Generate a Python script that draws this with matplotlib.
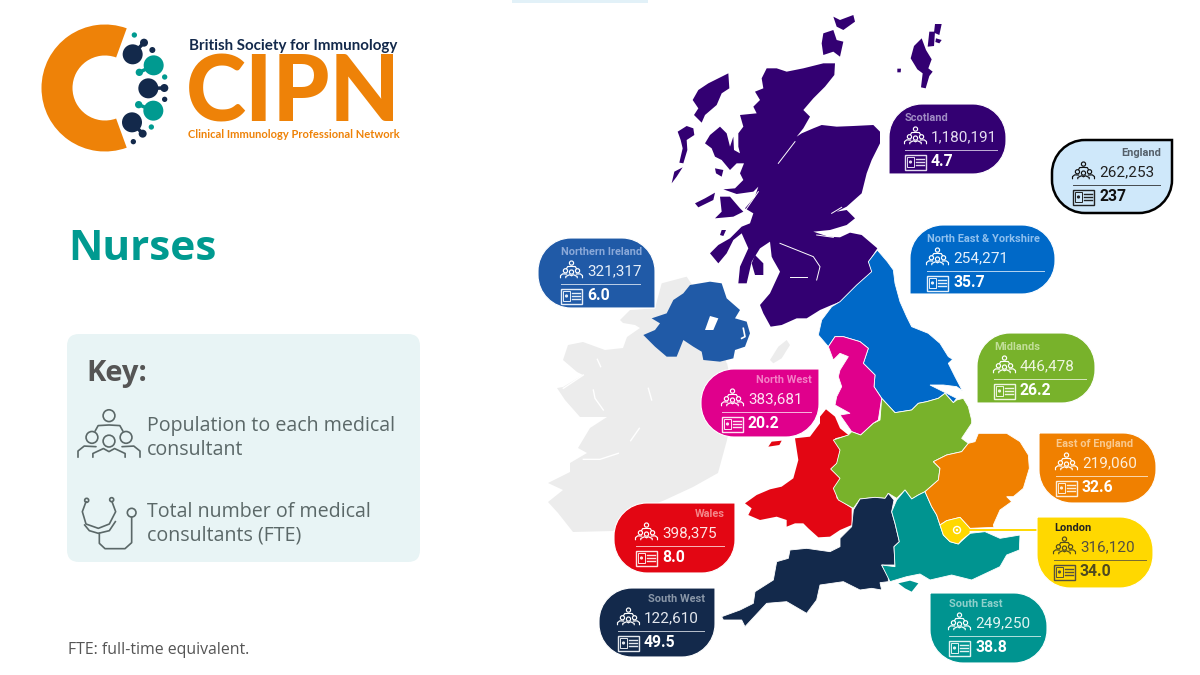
import matplotlib
matplotlib.use('Agg')
import matplotlib.pyplot as plt
from matplotlib.patches import Circle, PathPatch, Polygon, Rectangle, Wedge, FancyBboxPatch
from matplotlib.path import Path

# chart values
regions = ['Scotland', 'England', 'Northern Ireland', 'North East & Yorkshire', 'Midlands', 'North West',
           'East of England', 'London', 'South East', 'Wales', 'South West']
population = [1180191, 262253, 321317, 254271, 446478, 383681, 219060, 316120, 249250, 398375, 122610]
fte = [4.7, 237, 6.0, 35.7, 26.2, 20.2, 32.6, 34.0, 38.8, 8.0, 49.5]

fills = ['#330072', '#cfe8fa', '#205aa7', '#0069c8', '#78b22b', '#e0008c', '#f08000', '#ffd800', '#009490',
         '#e30613', '#13294b']
name_cols = ['#a08cc4', '#55606a', '#8aa8d8', '#8fc0ee', '#c2df99', '#f47fc6', '#f9c98e', '#222222', '#8fd0cb',
             '#f3878a', '#8a97a8']
num_cols = ['#e4dcf0', '#222222', '#e6eef8', '#e4f0fb', '#eef6e0', '#fde4f3', '#fdeeda', '#555040', '#e0f4f2',
            '#fde4e4', '#e4e8ee']
fte_cols = ['white', '#111111', 'white', 'white', 'white', 'white', 'white', '#4f4a20', 'white', 'white', 'white']

# callout layout: x0, y0, x1, y1, square corner, icon left, rule end, name on right?
boxes = [(889, 104, 1006, 174, 'bl', 905, 997, False),
         (1052, 140, 1172, 213, 'tr', 1073, 1160, True),
         (538, 238, 655, 308, 'br', 561, 640, False),
         (910, 225, 1055, 294, 'bl', 927, 1044, False),
         (977, 333, 1095, 403, 'bl', 994, 1086, False),
         (701, 369, 819, 437, 'tr', 722, 811, True),
         (1039, 433, 1156, 503, 'tl', 1056, 1147, False),
         (1037, 517, 1153, 588, 'tl', 1054, 1146, False),
         (930, 593, 1047, 663, 'tl', 949, 1040, False),
         (614, 503, 735, 573, 'tr', 636, 724, True),
         (599, 588, 715, 657, 'tr', 618, 704, True)]


def crop(pts, x0, y0):
    return [(x0 + px / 3, y0 + py / 3) for px, py in pts]


# map outlines
scot_main = crop([(380, 205), (410, 205), (440, 215), (490, 205), (550, 190), (585, 190), (583, 225), (555, 260),
                  (520, 295), (490, 330), (510, 350), (490, 385), (470, 410), (485, 400), (520, 385), (545, 375),
                  (590, 380), (640, 378), (700, 375), (720, 395), (720, 430), (695, 480), (680, 520), (665, 580),
                  (620, 620), (590, 635), (620, 630), (645, 655), (620, 675), (570, 690), (520, 695), (565, 710),
                  (600, 712), (630, 698), (665, 705), (712, 745)], 640, 0) + \
    crop([(205, 125), (215, 155), (170, 195), (120, 245), (95, 255), (60, 270), (20, 295)], 800, 220) + \
    crop([(800, 265), (755, 285), (722, 290), (700, 250), (690, 225), (720, 190), (750, 125), (730, 90)], 530, 230) + \
    crop([(395, 770), (390, 725), (360, 745), (335, 785), (320, 850), (295, 850), (300, 800), (325, 745), (305, 700),
          (280, 720), (260, 760), (235, 790), (210, 760), (235, 735), (270, 715), (305, 680), (330, 670), (340, 640),
          (315, 625), (345, 590), (355, 560), (340, 575), (290, 582), (250, 568), (285, 565), (310, 540), (300, 520),
          (312, 490), (290, 490), (270, 510), (245, 480), (225, 470), (215, 445), (195, 430), (210, 405), (240, 380),
          (260, 400), (270, 440), (280, 410), (282, 450), (300, 460), (295, 440), (295, 400), (310, 380), (300, 345),
          (350, 340), (340, 320), (360, 300), (345, 275), (370, 265), (365, 235)], 640, 0)
scot_isles = [crop(p, 640, 0) for p in [
    [(265, 220), (268, 265), (245, 280), (230, 315), (195, 345), (185, 368), (162, 345), (175, 325), (158, 300),
     (175, 270), (205, 250), (235, 235)],
    [(140, 378), (160, 385), (163, 405), (140, 420), (142, 450), (130, 490), (118, 488), (128, 445), (122, 420), (113, 395)],
    [(128, 502), (110, 530), (95, 550), (103, 515)],
    [(165, 610), (195, 595), (225, 578), (220, 600), (175, 622)],
    [(240, 590), (270, 590), (300, 625), (310, 635), (280, 650), (225, 655), (245, 635)],
    [(225, 505), (250, 510), (245, 530), (228, 520)],
    [(345, 765), (370, 790), (370, 825), (345, 825), (335, 790)],
    [(245, 690), (258, 690), (250, 708), (240, 705)],
    [(550, 100), (580, 90), (590, 120), (610, 125), (600, 170), (580, 155), (550, 165), (545, 130)],
    [(580, 50), (600, 60), (640, 45), (645, 65), (610, 90), (590, 80)]]]
shetland = [crop(p, 880, 10) for p in [
    [(125, 85), (138, 120), (155, 148), (145, 175), (158, 185), (148, 198), (137, 235), (123, 232), (128, 190),
     (112, 178), (92, 145), (102, 108)],
    [(148, 65), (165, 65), (162, 108), (143, 110)],
    [(165, 42), (185, 42), (178, 75), (162, 68)],
    [(168, 85), (185, 90), (178, 100), (166, 96)],
    [(52, 176), (63, 176), (62, 187), (52, 187)]]]
ne_england = crop([(232, 90), (262, 125), (280, 150), (285, 190), (300, 245), (320, 290), (335, 320), (385, 340),
                   (420, 370), (445, 410), (458, 418), (445, 430), (465, 470), (487, 512), (470, 500), (430, 495),
                   (390, 495), (440, 520), (470, 535), (460, 548), (435, 520), (415, 535), (380, 545), (355, 550),
                   (335, 570), (285, 578), (245, 535), (222, 500), (225, 465), (190, 430), (205, 385), (180, 365),
                   (130, 350), (105, 350), (85, 380), (55, 345), (65, 300), (95, 260), (120, 245), (170, 195),
                   (215, 155), (205, 125)], 800, 220)
nw_england = crop([(85, 380), (105, 350), (130, 350), (180, 365), (205, 385), (190, 430), (225, 465), (222, 500),
                   (245, 535), (235, 600)], 800, 220) + \
    crop([(400, 70), (362, 105), (335, 95), (300, 45), (330, 40), (285, 15)], 740, 400) + \
    crop([(110, 530), (125, 500), (115, 470), (120, 450), (145, 410), (120, 400), (100, 420)], 800, 220)
wales = crop([(258, 28), (285, 50), (300, 85), (325, 105), (285, 115), (300, 150), (290, 190), (272, 207), (300, 235),
              (285, 265), (290, 295), (335, 325), (335, 375), (300, 390), (270, 410), (235, 412), (205, 385), (190, 370),
              (165, 370), (140, 380), (140, 360), (110, 350), (60, 360), (25, 345), (35, 325), (15, 310), (50, 285),
              (90, 268), (125, 260), (160, 235), (175, 180), (165, 115), (210, 110), (240, 70), (240, 50)], 740, 400)
anglesey = crop([(95, 125), (125, 122), (118, 135), (85, 140)], 740, 400)
midlands = crop([(245, 535), (285, 578), (335, 570), (355, 550), (380, 545), (415, 535), (435, 520), (460, 548),
                 (470, 540), (490, 535), (505, 560), (515, 600)], 800, 220) + \
    crop([(695, 70), (675, 100), (665, 115), (685, 130), (665, 155), (620, 165), (580, 185), (600, 205), (595, 240),
          (555, 275), (535, 285), (515, 297), (495, 270), (470, 295), (445, 280), (435, 295), (405, 292), (360, 297),
          (340, 325), (295, 300), (280, 265), (300, 235), (272, 207), (290, 190), (300, 150), (280, 120), (325, 105),
          (335, 95), (362, 105), (400, 70), (420, 60)], 740, 400)
east_england = crop([(715, 100), (800, 100), (840, 125), (865, 165), (868, 205), (850, 265), (820, 290), (800, 290),
                     (815, 305), (780, 330), (760, 375), (762, 382), (690, 385), (660, 352), (620, 362), (600, 375),
                     (590, 345), (575, 320), (555, 275), (595, 240), (600, 205), (580, 185), (620, 165), (665, 155),
                     (685, 130), (705, 125)], 740, 400)
london = crop([(600, 375), (620, 362), (660, 352), (690, 385), (690, 400), (665, 420), (655, 432), (630, 425),
               (610, 405)], 740, 400)
se_england = crop([(555, 275), (575, 320), (590, 345), (600, 375), (610, 405), (630, 425), (655, 432), (690, 400),
                   (735, 395), (780, 415), (840, 405), (838, 450), (800, 465), (780, 500), (695, 540), (635, 525),
                   (570, 540), (540, 522), (500, 530), (450, 545), (425, 495), (465, 500), (462, 440), (478, 425),
                   (465, 370), (455, 335), (470, 300), (495, 270), (515, 297), (535, 285)], 740, 400)
wight = crop([(475, 550), (510, 542), (535, 550), (515, 575), (495, 565)], 740, 400)
sw_england = crop([(360, 297), (405, 292), (435, 295), (445, 280), (462, 300), (455, 335), (465, 370), (478, 425),
                   (462, 440), (465, 495), (425, 495), (445, 530), (445, 545), (420, 548), (425, 570), (395, 565),
                   (360, 570), (310, 545)], 740, 400) + \
    crop([(660, 555), (650, 600), (620, 640), (560, 605), (500, 610), (435, 680), (425, 660), (370, 660), (365, 650),
          (420, 630), (460, 610), (465, 575), (520, 540), (530, 485), (565, 475), (570, 450), (620, 445), (690, 455),
          (720, 440), (720, 415), (755, 380), (760, 330)], 600, 400)
n_ireland = crop([(480, 165), (540, 155), (575, 160), (590, 205), (630, 240), (615, 265), (650, 275), (660, 310),
                  (645, 350), (615, 360), (610, 385), (570, 395), (520, 390), (515, 365), (490, 350), (460, 330),
                  (440, 380), (410, 380), (375, 350), (340, 315), (375, 300), (390, 280), (365, 265), (410, 250),
                  (430, 210), (460, 190)], 530, 230)
lough_neagh = crop([(540, 258), (565, 265), (550, 300), (525, 300)], 530, 230)
ireland = crop([(270, 270), (300, 240), (375, 235), (395, 160), (470, 140), (490, 170), (560, 300), (590, 400)], 530, 230) + \
    [(727, 363), (735, 400), (727, 440), (718, 473), (693, 487), (665, 500), (640, 510), (613, 531), (573, 532),
     (558, 513), (548, 502), (563, 490), (548, 483), (570, 472), (570, 463), (587, 453), (578, 448), (590, 428),
     (607, 417), (580, 417), (565, 400), (557, 388), (563, 387), (583, 375), (577, 372), (563, 360), (568, 345),
     (583, 342), (605, 350), (623, 348), (627, 337), (640, 328), (635, 325), (623, 323)]
isle_of_man = crop([(770, 330), (780, 345), (755, 385), (730, 400), (720, 390), (745, 350)], 530, 230)

ireland_gaps = [crop(p, 540, 300) for p in [[(172, 178), (182, 200)], [(160, 270), (165, 295), (190, 330)],
                                             [(325, 265), (335, 300)], [(298, 385), (272, 422)],
                                             [(130, 478), (180, 478), (235, 460)], [(70, 265), (130, 225)]]]
scot_gaps = [crop(p, 640, 0) for p in [[(415, 490), (465, 425)], [(420, 730), (520, 770), (540, 800), (530, 840)],
                                       [(575, 640), (605, 622)], [(310, 640), (355, 575)],
                                       [(450, 830), (500, 830)], [(530, 705), (580, 712)]]]

fig = plt.figure(figsize=(12, 6.75), dpi=100)
ax = fig.add_axes([0, 0, 1, 1])
ax.set_xlim(0, 1200)
ax.set_ylim(675, 0)
ax.axis('off')


def shape(pts, col, z=2, edge='white', lw=0.6):
    ax.add_patch(Polygon(pts, closed=True, fc=col, ec=edge, lw=lw, zorder=z))


def callout_path(x0, y0, x1, y1, square, r=33):
    radii = {c: (0 if c == square else r) for c in ['tl', 'tr', 'br', 'bl']}
    k = 0.55
    v = [(x0 + radii['tl'], y0)]
    c = [Path.MOVETO]

    def corner(px, py, ax_, ay_, bx, by):
        v.append((px, py))
        c.append(Path.LINETO)
        v.extend([(px + (ax_ - px) * k, py + (ay_ - py) * k), (bx + (ax_ - bx) * k, by + (ay_ - by) * k), (bx, by)])
        c.extend([Path.CURVE4] * 3)

    corner(x1 - radii['tr'], y0, x1, y0, x1, y0 + radii['tr'])
    corner(x1, y1 - radii['br'], x1, y1, x1 - radii['br'], y1)
    corner(x0 + radii['bl'], y1, x0, y1, x0, y1 - radii['bl'])
    corner(x0, y0 + radii['tl'], x0, y0, x0 + radii['tl'], y0)
    return Path(v, c)


def people(cx, cy, w, col, lw, z=6):
    for hx, hy in [(0, -0.72), (-0.55, -0.02), (0.55, -0.02), (0, 0.1)]:
        ax.add_patch(Circle((cx + hx * w, cy + hy * w), 0.19 * w, fc='none', ec=col, lw=lw, zorder=z))
    bodies = [[(-0.45, -0.22), (-0.35, -0.4), (0, -0.42), (0.35, -0.4), (0.45, -0.22)],
              [(-1, 0.62), (-1, 0.42), (-0.8, 0.26), (-0.42, 0.28)],
              [(1, 0.62), (1, 0.42), (0.8, 0.26), (0.42, 0.28)],
              [(-0.52, 0.62), (-0.52, 0.5), (-0.18, 0.34), (0, 0.44), (0.18, 0.34), (0.52, 0.5), (0.52, 0.62)]]
    for b in bodies:
        ax.plot([cx + p[0] * w for p in b], [cy + p[1] * w for p in b], color=col, lw=lw, zorder=z,
                solid_capstyle='round')


def card(x, cy, col, lw=1.0, z=6):
    ax.add_patch(Rectangle((x, cy - 7.5), 21, 15, fc='none', ec=col, lw=lw, zorder=z))
    ax.add_patch(Rectangle((x + 2, cy - 5), 7, 10, fc='none', ec=col, lw=lw * 0.7, zorder=z))
    ax.add_patch(Circle((x + 5.5, cy), 1.6, fc=col, ec='none', zorder=z))
    for dy in [-3, 0, 3]:
        ax.plot([x + 11, x + 19], [cy + dy, cy + dy], color=col, lw=lw, zorder=z)


def stethoscope(col, lw):
    u_top = crop([(108, 545), (97, 575), (108, 612), (145, 625), (178, 612), (197, 575), (186, 545)], 50, 320)
    u_low = crop([(104, 615), (118, 632), (145, 640), (178, 632), (196, 605)], 50, 320)
    tube = crop([(148, 640), (148, 670), (165, 686), (225, 686), (245, 668), (245, 592)], 50, 320)
    for t in [u_top, u_low, tube]:
        ax.plot(*zip(*t), color=col, lw=lw, zorder=4)
    for hx, hy, hr in [(110, 541, 6), (185, 539, 6), (245, 578, 13)]:
        ax.add_patch(Circle((50 + hx / 3, 320 + hy / 3), hr / 3, fc='none', ec=col, lw=lw, zorder=4))


# strip at the top edge
ax.add_patch(Rectangle((512, 0), 136, 2.5, fc='#e2f1f8', ec='none', zorder=1))

# logo
orange = '#ee8208'
navy = '#13294b'
teal = '#009a90'
ax.add_patch(Wedge((105, 88), 63.5, 70, 290, width=31, fc=orange, ec='none', zorder=2))
navy_dots = [(398, 163, 30), (432, 128, 12), (457, 150, 9), (445, 265, 30), (493, 264, 12), (494, 298, 8),
             (396, 367, 30), (428, 401, 12), (400, 425, 8)]
teal_dots = [(403, 105, 8), (461, 196, 30), (418, 217, 11), (494, 231, 8), (460, 332, 30), (416, 314, 11), (454, 381, 8)]
for (dots, col) in [(navy_dots, navy), (teal_dots, teal)]:
    for dx, dy, dr in dots:
        ax.add_patch(Circle((dx / 3, dy / 3), dr / 3, fc=col, ec='none', zorder=2))
for a, b, col in [(0, 1, navy), (3, 4, navy), (6, 7, navy)]:
    ax.plot([navy_dots[a][0] / 3, navy_dots[b][0] / 3], [navy_dots[a][1] / 3, navy_dots[b][1] / 3], color=col, lw=2.5, zorder=2)
for a, b in [(1, 2), (4, 5)]:
    ax.plot([teal_dots[a][0] / 3, teal_dots[b][0] / 3], [teal_dots[a][1] / 3, teal_dots[b][1] / 3], color=teal, lw=2.5, zorder=2)

ax.text(189, 46, 'British Society for Immunology', family='Lato', weight='bold', fontsize=10.9, color=navy, va='center')
ax.text(186, 121.5, 'CIPN', family='Lato', weight='black', fontsize=65.5, color=orange, va='baseline', ha='left')
ax.text(188, 134.5, 'Clinical Immunology Professional Network', family='Lato', weight='bold', fontsize=8, color=orange,
        va='center')

# heading, key
ax.text(68, 249, 'Nurses', family='Open Sans', weight='bold', fontsize=30.5, color='#009a90', va='center')
ax.add_patch(FancyBboxPatch((79, 346), 329, 204, boxstyle='round,pad=12,rounding_size=12', fc='#e8f4f5', ec='none', zorder=1))
ax.text(86, 373, 'Key:', family='Open Sans', weight='bold', fontsize=21, color='#555555', va='center', zorder=3)
key_col = '#5b6868'
for y, s in [(426, 'Population to each medical'), (450, 'consultant'), (512, 'Total number of medical'),
             (536, 'consultants (FTE)')]:
    ax.text(147, y, s, family='Open Sans', fontsize=14.15, color=key_col, va='center', zorder=3)
people(109, 438, 31, key_col, 1.2, z=4)
stethoscope(key_col, 1.2)
ax.text(68, 650, 'FTE: full-time equivalent.', family='Open Sans', fontsize=11.4, color='#555555', va='center')

# map
shape(ireland, '#ececec', 1, edge='none', lw=0)
shape(isle_of_man, '#ececec', 1, edge='none', lw=0)
for g in ireland_gaps:
    ax.plot(*zip(*g), color='white', lw=1, zorder=1.5)

shape(scot_main, fills[0], edge='none', lw=0)
for isle in scot_isles + shetland:
    shape(isle, fills[0], edge='none', lw=0)
for g in scot_gaps:
    ax.plot(*zip(*g), color='white', lw=0.7, zorder=2.5)
shape(ne_england, fills[3])
shape(nw_england, fills[5])
shape(wales, fills[9], edge='none', lw=0)
shape(anglesey, fills[9], edge='none', lw=0)
shape(midlands, fills[4])
shape(sw_england, fills[10])
shape(se_england, fills[8])
shape(wight, fills[8], edge='none', lw=0)
shape(east_england, fills[6])
shape(london, fills[7])
shape(n_ireland, fills[2], edge='none', lw=0)
shape(lough_neagh, 'white', 3, edge='none', lw=0)
ax.plot(*zip(*crop([(640, 295), (645, 320), (635, 325)], 530, 230)), color='white', lw=1.2, zorder=3)

# leader to London
ax.plot([957, 1038], [530, 530], color=fills[7], lw=1.4, zorder=3)
ax.add_patch(Circle((957, 530), 3.5, fc=fills[7], ec='white', lw=1, zorder=4))
ax.add_patch(Circle((957, 530), 1.2, fc='white', ec='none', zorder=5))

# callouts
for i, name in enumerate(regions):
    x0, y0, x1, y1, square, ix, rule_end, right = boxes[i]
    england = name == 'England'
    ax.add_patch(PathPatch(callout_path(x0, y0, x1, y1, square), fc=fills[i], ec='black' if england else 'white',
                           lw=1.8 if england else 0.8, zorder=5))
    # boxes with a square top corner sit their rows a little higher
    shift = -1 if england else (-3 if square in ('tl', 'tr') else 0)
    if right:
        ax.text(rule_end + 1, y0 + 14 + shift, name, family='Roboto', weight='bold', fontsize=7.9, color=name_cols[i],
                ha='right', va='center', zorder=6)
    else:
        ax.text(ix, y0 + 14 + shift, name, family='Roboto', weight='bold', fontsize=7.9, color=name_cols[i], va='center',
                zorder=6)
    people(ix + 10.5, y0 + 33 + shift, 11, fte_cols[i], 0.85)
    ax.text(ix + 26, y0 + 33.5 + shift, f'{population[i]:,}', family='Roboto', fontsize=11, color=num_cols[i], va='center',
            zorder=6)
    ax.plot([ix, rule_end], [y0 + 45.5 + shift, y0 + 45.5 + shift], color=num_cols[i], lw=0.7, alpha=0.8, zorder=6)
    card(ix, y0 + 58 + shift, num_cols[i])
    ax.text(ix + 26, y0 + 57.5 + shift, str(fte[i]), family='Roboto', weight='bold', fontsize=11.3, color=fte_cols[i],
            va='center', zorder=6)

fig.savefig('out.png', dpi=100)
